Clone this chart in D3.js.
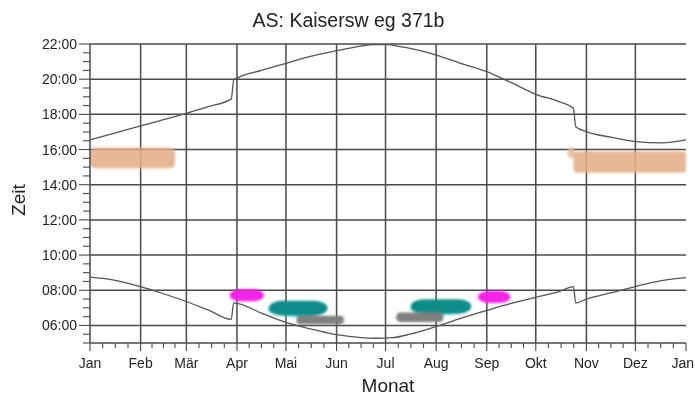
<!DOCTYPE html>
<html><head><meta charset="utf-8">
<script src="https://cdn.jsdelivr.net/npm/d3@7"></script>
<style>body{margin:0;background:#fff}svg{display:block}text{font-family:"Liberation Sans",Arial,sans-serif;fill:#222}</style>
</head><body>
<script>
// ---- data ----
const title = "AS: Kaisersw eg 371b";
const monthLabels = ["Jan","Feb","Mär","Apr","Mai","Jun","Jul","Aug","Sep","Okt","Nov","Dez","Jan"];
const monthStartDays = [0,31,59,90,120,151,181,212,243,273,304,334,365];
const hourTicks = [6,8,10,12,14,16,18,20,22];
const hourTickLabels = ["06:00","08:00","10:00","12:00","14:00","16:00","18:00","20:00","22:00"];

// sunset curve (day of year, local time in hours)
const sunsetDays  = [0,15,31,45,59,73,86.5,88,90,105,120,135,151,166,174,182,190,196,212,227,243,258,273,288,296,297.5,304,319,334,350,365];
const sunsetTimes = [16.55,16.93,17.34,17.7,18.06,18.45,18.88,19.95,20.06,20.5,20.9,21.3,21.62,21.88,21.97,21.97,21.85,21.75,21.37,20.9,20.43,19.8,19.14,18.7,18.35,17.3,17.02,16.7,16.45,16.38,16.55];
// sunrise curve
const sunriseDays  = [0,13,21,31,45,59,73,86.5,88,105,120,135,151,166,175,185,196,212,227,243,258,273,288,296,297.5,304,319,334,350,365];
const sunriseTimes = [8.74,8.6,8.45,8.2,7.8,7.36,6.85,6.34,7.28,6.7,6.17,5.8,5.47,5.3,5.27,5.3,5.5,5.94,6.4,6.85,7.25,7.6,7.95,8.21,7.27,7.5,7.85,8.21,8.55,8.72];

// shadow periods: day from/to, time from/to (hours), colour
const shadowDayFrom  = [0,   296,  292.5, 85.5, 237.5, 109.5, 196.5, 126.5, 187.5];
const shadowDayTo    = [52,  365,  296.5, 106.5, 257.5, 145.5, 233.5, 155.5, 216.5];
const shadowTimeFrom = [14.93,14.68,15.5, 7.38, 7.27, 6.57, 6.67, 6.07, 6.20];
const shadowTimeTo   = [16.1,15.9,16.15, 8.05, 7.96, 7.40, 7.49, 6.55, 6.74];
const shadowColors   = ["#e5ae88","#e5ae88","#e8b898","#f51ee8","#f51ee8","#0b8a86","#0b8a86","#7c7c7c","#7c7c7c"];
const shadowRound    = [0.25,0.15,0.5,0.5,0.5,0.5,0.5,0.45,0.45];

// ---- layout ----
const W = 695, H = 397;
const x = d3.scaleLinear().domain([0,365]).range([90,686]);
const y = d3.scaleLinear().domain([5,22]).range([343,44]);
const gridColor = "#4a4a4a";

const svg = d3.select("body").append("svg").attr("width",W).attr("height",H);
const defs = svg.append("defs");
defs.append("filter").attr("id","soft").attr("x","-20%").attr("y","-40%").attr("width","140%").attr("height","180%")
  .append("feGaussianBlur").attr("stdDeviation",1.1);

// grid
const grid = svg.append("g").attr("stroke",gridColor).attr("stroke-width",1.5);
hourTicks.forEach(t=>{
  grid.append("line").attr("x1",x(0)).attr("x2",x(365)).attr("y1",y(t)).attr("y2",y(t));
});
monthStartDays.slice(1,12).forEach(d=>{
  grid.append("line").attr("x1",x(d)).attr("x2",x(d)).attr("y1",y(22)).attr("y2",y(5));
});

// shadow blobs (drawn over the grid)
const blobs = svg.append("g").attr("filter","url(#soft)");
shadowDayFrom.forEach((d,i)=>{
  const x0 = x(d), x1 = x(shadowDayTo[i]);
  const y0 = y(shadowTimeTo[i]), y1 = y(shadowTimeFrom[i]);
  const h = y1-y0;
  if (shadowColors[i] === "#0b8a86") {
    blobs.append("rect").attr("x",x0-1).attr("y",y0+1.5).attr("width",x1-x0).attr("height",h)
      .attr("rx",(x1-x0)/2).attr("ry",h/2).attr("fill","#4fd8dc");
  }
  const r = shadowRound[i] >= 0.5;
  const tan = i < 3;
  blobs.append("rect").attr("x",x0).attr("y",y0).attr("width",x1-x0).attr("height",h)
    .attr("rx",r ? Math.min((x1-x0)/2, h*0.9) : h*shadowRound[i]).attr("ry",r ? h/2 : h*shadowRound[i])
    .attr("fill",shadowColors[i]).attr("opacity",tan ? 0.88 : 0.97);
});

// axes
const yAxis = svg.append("g").attr("transform",`translate(${x(0)},0)`);
yAxis.append("line").attr("x1",0).attr("x2",0).attr("y1",y(22)).attr("y2",y(5)).attr("stroke",gridColor).attr("stroke-width",1.5);
d3.range(5,22.01,0.5).forEach(t=>{
  const major = Math.abs(t%2)<1e-6;
  yAxis.append("line").attr("x1",major?-11:-7).attr("x2",0).attr("y1",y(t)).attr("y2",y(t))
    .attr("stroke",gridColor).attr("stroke-width",1.1);
});
hourTicks.forEach((t,i)=>{
  yAxis.append("text").attr("x",-13).attr("y",y(t)).attr("dy","0.36em").attr("text-anchor","end")
    .attr("font-size",14).text(hourTickLabels[i]);
});

const xAxis = svg.append("g").attr("transform",`translate(0,${y(5)})`);
xAxis.append("line").attr("x1",x(0)).attr("x2",x(365)).attr("y1",0).attr("y2",0).attr("stroke",gridColor).attr("stroke-width",1.5);
for (let m=0;m<12;m++){
  const a = monthStartDays[m], b = monthStartDays[m+1];
  for (let q=0;q<4;q++){
    const d = a + (b-a)*q/4;
    xAxis.append("line").attr("x1",x(d)).attr("x2",x(d)).attr("y1",0).attr("y2",q===0?8:5)
      .attr("stroke",gridColor).attr("stroke-width",1.1);
  }
}
xAxis.append("line").attr("x1",x(365)).attr("x2",x(365)).attr("y1",0).attr("y2",8).attr("stroke",gridColor).attr("stroke-width",1.1);
monthLabels.forEach((l,i)=>{
  const last = i === monthLabels.length-1;
  xAxis.append("text").attr("x",last ? W-1 : x(monthStartDays[i])).attr("y",25)
    .attr("text-anchor",last ? "end" : "middle")
    .attr("font-size",14).text(l);
});

// curves
const line = d3.line().x(d=>x(d[0])).y(d=>y(d[1])).curve(d3.curveMonotoneX);
const sunset = sunsetDays.map((d,i)=>[d,sunsetTimes[i]]);
const sunrise = sunriseDays.map((d,i)=>[d,sunriseTimes[i]]);
[sunset,sunrise].forEach(s=>{
  svg.append("path").attr("d",line(s)).attr("fill","none").attr("stroke","#555").attr("stroke-width",1.3);
});

// titles
svg.append("text").attr("x",348.5).attr("y",26.5).attr("text-anchor","middle").attr("font-size",19.5).text(title);
svg.append("text").attr("x",(x(0)+x(365))/2).attr("y",392).attr("text-anchor","middle").attr("font-size",19).text("Monat");
svg.append("text").attr("transform","translate(25,200) rotate(-90)").attr("text-anchor","middle").attr("font-size",19).text("Zeit");
</script>
</body></html>
